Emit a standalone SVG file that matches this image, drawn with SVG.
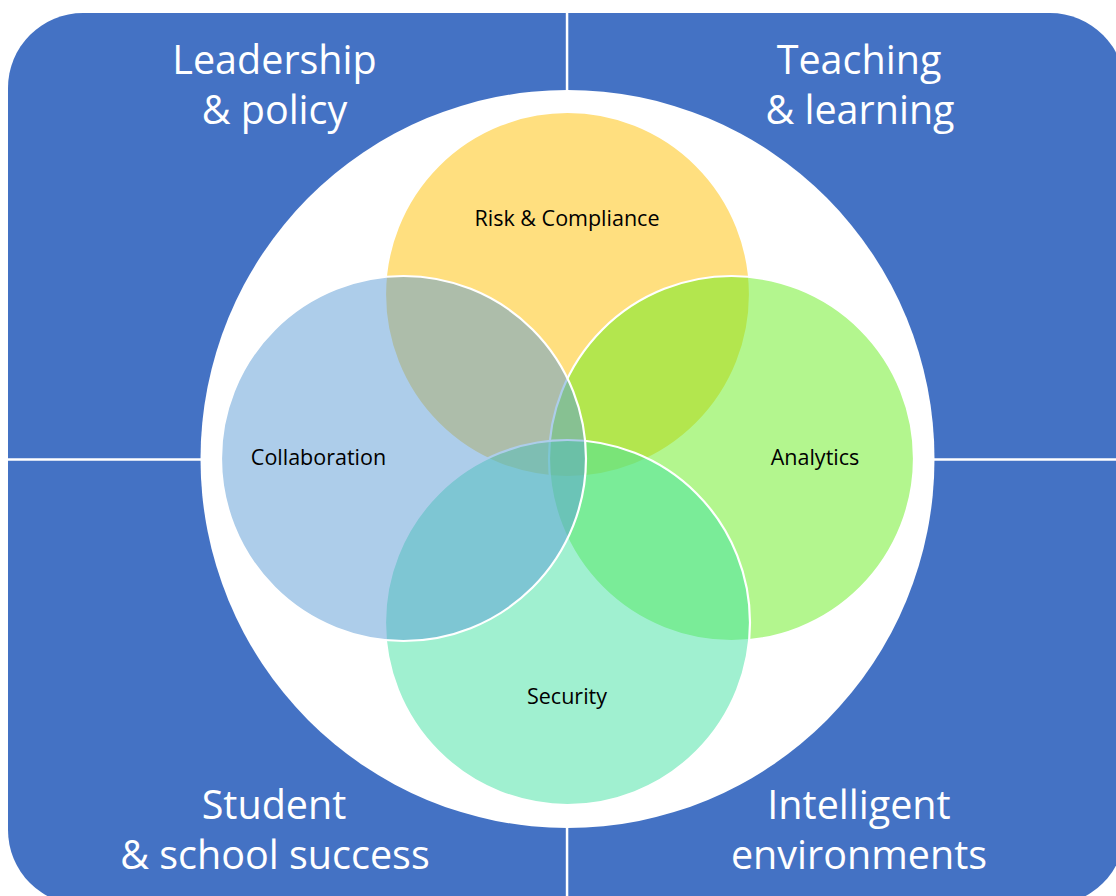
<svg xmlns="http://www.w3.org/2000/svg" width="1116" height="896" viewBox="0 0 1116 896">
<style>
.quad{fill:#4472C4;}
.qt{font-family:"Open Sans","Noto Sans",sans-serif;font-size:39.5px;fill:#FFFFFF;text-anchor:middle;}
.ct{font-family:"Open Sans","Noto Sans",sans-serif;font-size:21.5px;fill:#000000;text-anchor:middle;}
.venn{fill-opacity:0.5;stroke:#FFFFFF;stroke-width:2.2;}
</style>
<rect x="0" y="0" width="1116" height="896" fill="#FFFFFF"/>
<g id="quad-leadership">
<path class="quad" d="M8,88 A75,75 0 0 1 83,13 L565.8,13 L565.8,458.2 L8,458.2 Z"/>
<text class="qt" x="274.5" y="74">Leadership</text>
<text class="qt" x="274.5" y="124">&amp; policy</text>
</g>
<g id="quad-teaching">
<path class="quad" d="M568.3,13 L1050,13 A75,75 0 0 1 1125,88 L1125,458.2 L568.3,458.2 Z"/>
<text class="qt" x="859" y="74">Teaching</text>
<text class="qt" x="860" y="124">&amp; learning</text>
</g>
<g id="quad-student">
<path class="quad" d="M8,460.7 L565.8,460.7 L565.8,905 L83,905 A75,75 0 0 1 8,830 Z"/>
<text class="qt" x="274" y="819">Student</text>
<text class="qt" x="275" y="869">&amp; school success</text>
</g>
<g id="quad-intelligent">
<path class="quad" d="M568.3,460.7 L1125,460.7 L1125,830 A75,75 0 0 1 1050,905 L568.3,905 Z"/>
<text class="qt" x="859" y="819">Intelligent</text>
<text class="qt" x="859" y="869">environments</text>
</g>
<g id="white-disc">
<ellipse cx="567.5" cy="459" rx="367" ry="369" fill="#FFFFFF"/>
</g>
<g id="connectors"></g>
<g id="risk">
<circle class="venn" cx="567.5" cy="294.5" r="182.5" fill="#FFC000"/>
</g>
<g id="analytics">
<circle class="venn" cx="731.5" cy="458.5" r="182.5" fill="#67ED1D"/>
</g>
<g id="security">
<circle class="venn" cx="567.5" cy="622.5" r="182.5" fill="#41E1A1"/>
</g>
<g id="collaboration">
<circle class="venn" cx="403.5" cy="458.5" r="182.5" fill="#5B9BD5"/>
</g>
<g id="labels">
<text class="ct" x="567" y="226">Risk &amp; Compliance</text>
<text class="ct" x="318.5" y="465">Collaboration</text>
<text class="ct" x="815" y="465">Analytics</text>
<text class="ct" x="567" y="704">Security</text>
</g>
</svg>
